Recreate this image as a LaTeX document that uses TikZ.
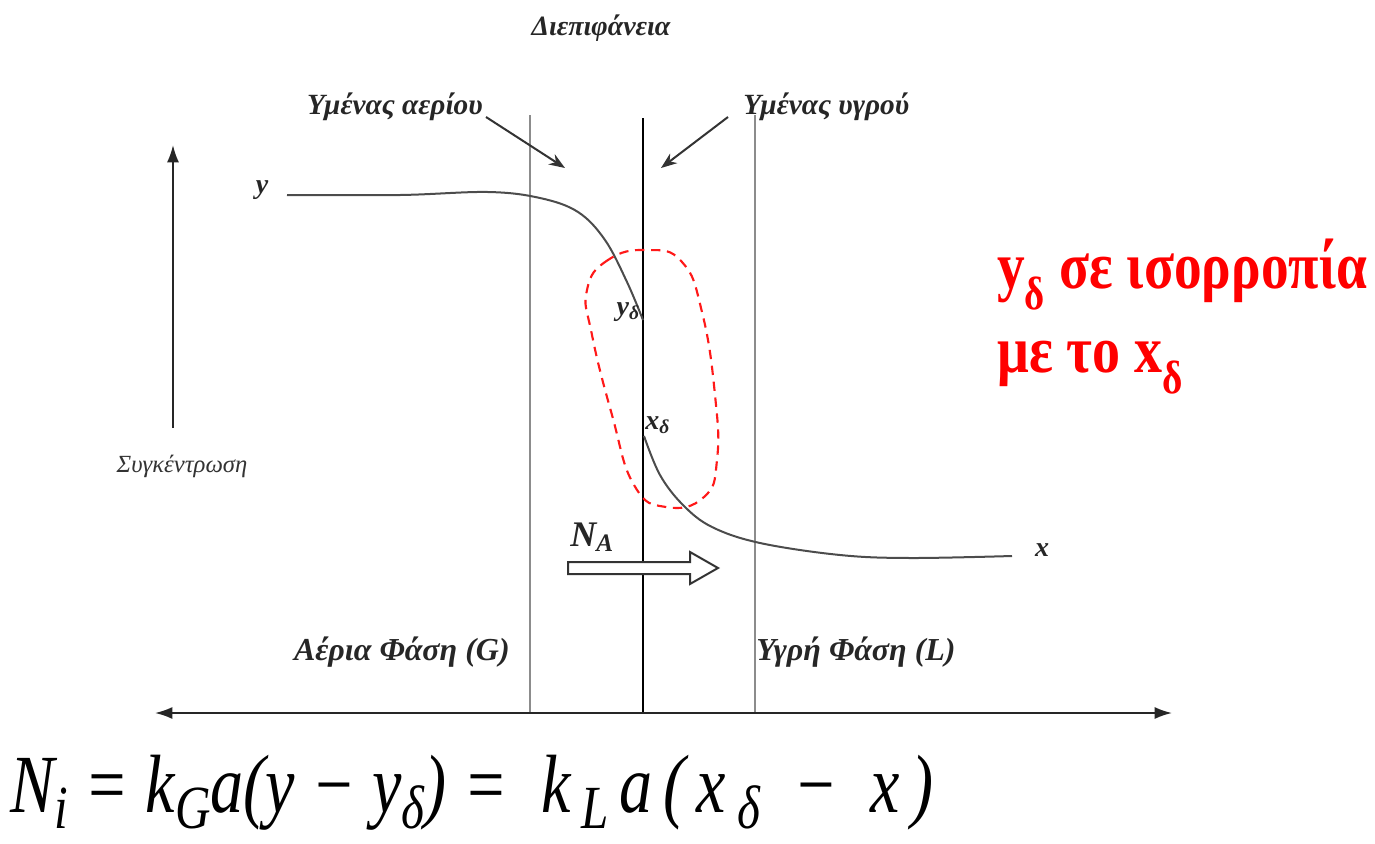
\documentclass[tikz,border=0pt]{standalone}
\usepackage{fontspec}
\setmainfont{Liberation Serif}
\usetikzlibrary{arrows.meta}
\newcommand\eqsub[1]{\raisebox{-0.2em}{\fontsize{46}{46}\selectfont #1}}
\begin{document}
\begin{tikzpicture}[x=0.75pt,y=-0.75pt,
  lbl/.style={font=\bfseries\itshape\fontsize{22}{24}\selectfont, inner sep=0pt, text=black!85},
  phase/.style={font=\bfseries\itshape\fontsize{24}{26}\selectfont, inner sep=0pt, text=black!85},
  small/.style={font=\itshape\fontsize{18.5}{20}\selectfont, inner sep=0pt, text=black!80},
  sym/.style={font=\bfseries\itshape\fontsize{21}{23}\selectfont, inner sep=0pt, text=black!85},
  redtxt/.style={font=\bfseries\fontsize{50}{54}\selectfont, text=red, inner sep=0pt, anchor=base west},
  thinline/.style={draw=black!45, line width=0.8pt},
  curve/.style={draw=black!70, line width=1.5pt},
  axis/.style={draw=black!85, line width=1.4pt},
  ptr/.style={draw=black!80, line width=1.5pt, -{Stealth[length=12pt,width=9pt]}},
  film/.style={red!90, dashed, line width=1.6pt, dash pattern=on 7pt off 5pt}
]
\useasboundingbox (0,0) rectangle (1375,843);

% vertical lines
\coordinate (gtop) at (530,115);
\coordinate (gbot) at (530,713);
\coordinate (itop) at (643,118);
\coordinate (ibot) at (643,713);
\coordinate (ltop) at (755,115);
\coordinate (lbot) at (755,713);
\draw[thinline] (gtop) -- (gbot);
\draw[thinline] (ltop) -- (lbot);
\draw[draw=black, line width=2.2pt] (itop) -- (ibot);

% horizontal double arrow
\coordinate (hl) at (155,713);
\coordinate (hr) at (1172,713);
\draw[axis, {Latex[length=13pt,width=9pt]}-{Latex[length=13pt,width=9pt]}] (hl) -- (hr);

% vertical concentration arrow
\coordinate (vb) at (173,428);
\coordinate (vt) at (173,145);
\draw[axis, -{Latex[length=13pt,width=9pt]}] (vb) -- (vt);
\node[small] (conc) at (182,466) {Συγκέντρωση};

% titles
\node[lbl, font=\bfseries\itshape\fontsize{21}{23}\selectfont] (title) at (601,28) {Διεπιφάνεια};
\node[lbl, anchor=east] (gfilm) at (483,107) {Υμένας αερίου};
\node[lbl, anchor=west] (lfilm) at (743,107) {Υμένας υγρού};
\coordinate (gfa) at (565,168);
\coordinate (lfa) at (661,168);
\draw[ptr] (gfilm.east) ++(3,10) -- (gfa);
\draw[ptr] (lfilm.west) ++(-15,10) -- (lfa);

% y curve
\node[sym] (ylab) at (262,190) {y};
\coordinate (yd) at (643,320);
\draw[curve] plot[smooth, tension=0.6] coordinates {(287,195) (400,195) (488,192) (540,198) (578,212) (605,240) (627,282) (643,320)};
\node[sym, anchor=east] (ydlab) at (640,312) {y\textsubscript{δ}};

% x curve
\node[sym, anchor=west] (xdlab) at (645,425) {x\textsubscript{δ}};
\draw[curve] plot[smooth, tension=0.6] coordinates {(644,436) (660,475) (683,505) (712,527) (760,543) (840,555) (910,558) (1012,556)};
\node[sym] (xlab) at (1042,550) {x};

% red dashed equilibrium loop
\draw[film] plot[smooth cycle, tension=0.8] coordinates {(647,250) (608,260) (587,290) (592,335) (612,415) (634,485) (666,507) (704,497) (717,460) (715,395) (702,312) (682,262)};

% N_A and hollow arrow
\node[font=\bfseries\itshape\fontsize{27}{29}\selectfont, inner sep=0pt, text=black!85] (na) at (592,537) {N\textsubscript{A}};
\draw[black!80, line width=1.5pt, fill=white] (568,562) -- (690,562) -- (690,552) -- (718,568) -- (690,584) -- (690,574) -- (568,574) -- cycle;

% phase labels
\node[phase, anchor=east] (gas) at (510,652) {Αέρια Φάση (G)};
\node[phase, anchor=west] (liq) at (756,652) {Υγρή Φάση (L)};

% red statement
\node[redtxt] (r1) at (997,288) {\scalebox{0.83}[1]{y\textsubscript{δ} σε ισορροπία}};
\node[redtxt] (r2) at (997,372) {\scalebox{0.84}[1]{με το x\textsubscript{δ}}};

% equation
\node[font=\itshape\fontsize{62}{64}\selectfont, inner sep=0pt, anchor=base west] (eq) at (10,812) {\scalebox{0.8}[1]{N\eqsub{i} = k\eqsub{G}a(y − y\eqsub{δ}) = \ k\,\eqsub{L}\,a\,(\,x\,\eqsub{δ}\ \ − \ x\,)}};
\end{tikzpicture}
\end{document}
